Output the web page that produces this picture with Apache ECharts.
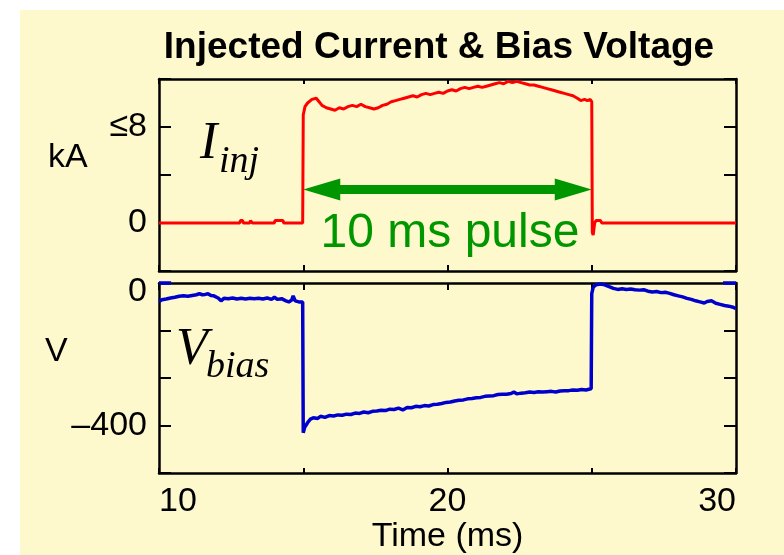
<!DOCTYPE html>
<html>
<head>
<meta charset="utf-8">
<script src="https://cdn.jsdelivr.net/npm/echarts@6/dist/echarts.min.js"></script>
<style>
  html, body { margin: 0; padding: 0; background: #ffffff; }
  #chart { width: 784px; height: 555px; }
</style>
</head>
<body>
<div id="chart"></div>
<script>
// Injected current (kA) sampled over the shot, time in ms
const currentTime = [
  10.0, 12.80, 12.82, 12.90, 12.92, 13.15, 13.17, 13.22, 13.24, 14.00, 14.02, 14.30, 14.32, 14.98,
  15.00, 15.06, 15.15, 15.30, 15.45, 15.55, 15.65, 15.80, 15.95, 16.10, 16.25, 16.40, 16.55, 16.70,
  16.85, 17.00, 17.15, 17.30, 17.45, 17.60, 17.75, 17.90, 18.05, 18.20, 18.35, 18.50, 18.65, 18.80,
  18.95, 19.10, 19.25, 19.40, 19.55, 19.70, 19.85, 20.00, 20.15, 20.30, 20.45, 20.60, 20.75, 20.90,
  21.05, 21.20, 21.35, 21.50, 21.65, 21.80, 21.95, 22.10, 22.25, 22.40, 22.55, 22.70, 22.85, 23.00,
  23.15, 23.30, 23.45, 23.60, 23.75, 23.90, 24.05, 24.20, 24.35, 24.50, 24.62, 24.75, 24.85, 24.95,
  25.00, 25.02, 25.05, 25.10, 25.15, 25.30, 25.35, 29.40, 29.42, 29.47, 30.0
];
const currentKA = [
  0, 0, 0.2, 0.2, 0, 0, 0.2, 0.2, 0, 0, 0.2, 0.2, 0, 0,
  9.0, 9.7, 10.0, 10.3, 10.4, 10.1, 9.8, 9.6, 9.5, 9.4, 9.6, 9.5, 9.7, 9.8,
  9.7, 9.9, 9.7, 9.6, 9.5, 9.6, 9.8, 9.9, 10.1, 10.2, 10.3, 10.4, 10.5, 10.6,
  10.5, 10.7, 10.8, 10.7, 10.8, 10.9, 10.8, 11.0, 11.1, 11.0, 11.2, 11.3, 11.2, 11.3,
  11.4, 11.3, 11.4, 11.5, 11.6, 11.7, 11.6, 11.8, 11.7, 11.8, 11.7, 11.6, 11.5, 11.5,
  11.4, 11.3, 11.2, 11.1, 11.0, 10.9, 10.8, 10.7, 10.6, 10.4, 10.2, 10.3, 10.2, 10.3,
  10.1, -0.8, -1.0, 0.0, 0.2, 0.2, 0, 0, 0.15, 0, 0
];

// Bias voltage (V) over the same window
const biasTime = [
  10.0, 10.1, 10.25, 10.4, 10.55, 10.7, 10.85, 11.0, 11.15, 11.3, 11.4, 11.5, 11.6, 11.7, 11.8, 11.9,
  12.05, 12.15, 12.25, 12.4, 12.55, 12.7, 12.85, 13.0, 13.15, 13.3, 13.45, 13.6, 13.75, 13.9, 14.0,
  14.1, 14.25, 14.4, 14.5, 14.6, 14.65, 14.72, 14.85, 14.98,
  15.0, 15.05, 15.15, 15.25, 15.35, 15.5, 15.6, 15.75, 15.9, 16.05, 16.2, 16.35, 16.5, 16.65, 16.8,
  16.95, 17.1, 17.25, 17.4, 17.55, 17.7, 17.85, 18.0, 18.15, 18.3, 18.45, 18.6, 18.75, 18.9, 19.05,
  19.2, 19.35, 19.5, 19.65, 19.8, 19.95, 20.1, 20.25, 20.4, 20.55, 20.7, 20.85, 21.0, 21.15, 21.3,
  21.45, 21.6, 21.75, 21.9, 22.05, 22.2, 22.3, 22.4, 22.55, 22.7, 22.85, 23.0, 23.15, 23.3, 23.45,
  23.6, 23.75, 23.9, 24.05, 24.2, 24.35, 24.5, 24.65, 24.8, 24.9, 24.98,
  25.0, 25.05, 25.15, 25.3, 25.45, 25.6, 25.75, 25.9, 26.05, 26.2, 26.35, 26.5, 26.65, 26.8, 26.95,
  27.1, 27.25, 27.4, 27.55, 27.7, 27.85, 28.0, 28.15, 28.3, 28.45, 28.6, 28.75, 28.9, 29.0, 29.15,
  29.3, 29.45, 29.6, 29.75, 29.9, 30.0
];
const biasVolts = [
  -52, -47, -45, -42, -40, -37, -36, -37, -35, -33, -30, -33, -32, -30, -35, -36,
  -42, -50, -43, -44, -42, -45, -43, -45, -43, -44, -43, -45, -42, -46, -40,
  -46, -44, -50, -53, -48, -36, -50, -53, -53,
  -420, -405, -392, -382, -378, -380, -374, -377, -372, -373, -370, -371, -368, -369, -365,
  -366, -362, -364, -360, -359, -357, -358, -354, -355, -351, -356, -349, -350, -346, -347,
  -344, -345, -341, -340, -338, -335, -334, -331, -329, -328, -325, -324, -322, -321, -318,
  -317, -316, -313, -312, -312, -310, -306, -311, -309, -308, -306, -307, -305, -306, -305,
  -304, -306, -303, -302, -302, -300, -301, -299, -300, -298, -297,
  -30, -12, -5, -3, -5, -10, -15, -18, -16, -18, -17, -19, -20, -19, -23,
  -25, -24, -27, -26, -29, -33, -36, -39, -43, -46, -50, -53, -56, -52, -50,
  -57, -60, -63, -65, -68, -72
];

// Short reference stubs drawn at 0 V at both ends of the window
const biasRefTime = [10.0, 10.42, null, 29.55, 30.0];
const biasRefVolts = [0, 0, null, 0, 0];

// Pulse annotation: start, end (ms) and the current level it is drawn at (kA)
const pulseStart = 15;
const pulseEnd = 25;
const pulseArrowLevel = 2.8;

// Axis ranges and labelled ticks
const timeRange = [10, 30];
const timeTickStep = 5;
const timeLabels = [10, 20, 30];
const currentRange = [-4, 12];
const currentTickStep = 4;
const currentLabels = { 0: '0', 8: '≤8' };
const biasTickStep = 400 / 3;
const biasRange = [-4 * biasTickStep, 0];
const biasLabels = [[0, '0'], [-400, '–400']];

const zip = (xs, ys) => xs.map((x, i) => (x === null ? null : [x, ys[i]]));

const BG = '#fef8cd';
const INK = '#000000';
const SANS = '"Liberation Sans", Arial, Helvetica, sans-serif';
const SERIF = '"Liberation Serif", "Times New Roman", serif';
const GREEN = '#009600';
const LABEL_SIZE = 34;

const frameLine = { show: true, onZero: false, lineStyle: { color: INK, width: 2.5 } };

function xAxisFor(gridIndex, position, tickLen, showLabels) {
  return {
    type: 'value', gridIndex, position,
    min: timeRange[0], max: timeRange[1], interval: timeTickStep,
    axisLine: frameLine,
    axisTick: { show: true, inside: true, length: tickLen, lineStyle: { color: INK, width: 2 } },
    splitLine: { show: false },
    axisLabel: showLabels ? {
      show: true, color: INK, fontFamily: SANS, fontSize: LABEL_SIZE, margin: 12,
      alignMinLabel: 'left', alignMaxLabel: 'right',
      formatter: v => (timeLabels.some(t => Math.abs(t - v) < 1e-6) ? String(Math.round(v)) : '')
    } : { show: false },
    name: showLabels ? 'Time (ms)' : '',
    nameLocation: 'middle', nameGap: 38,
    nameTextStyle: { color: INK, fontFamily: SANS, fontSize: LABEL_SIZE }
  };
}

function yAxisFor(gridIndex, position, range, step, formatter) {
  return {
    type: 'value', gridIndex, position,
    min: range[0], max: range[1], interval: step,
    axisLine: frameLine,
    axisTick: { show: true, inside: true, length: 12, lineStyle: { color: INK, width: 2 } },
    splitLine: { show: false },
    axisLabel: formatter ? {
      show: true, color: INK, fontFamily: SANS, fontSize: LABEL_SIZE, margin: 12,
      formatter,
      rich: { top: { fontFamily: SANS, fontSize: LABEL_SIZE, color: INK, padding: [18, 0, 0, 0] } }
    } : { show: false }
  };
}

const chart = echarts.init(document.getElementById('chart'), null, { renderer: 'canvas' });

chart.setOption({
  animation: false,
  backgroundColor: '#ffffff',
  grid: [
    { left: 159, top: 79, width: 577, height: 192, containLabel: false },
    { left: 159, top: 283, width: 577, height: 195, containLabel: false }
  ],
  xAxis: [
    xAxisFor(0, 'bottom', 6, false),
    xAxisFor(0, 'top', 5, false),
    xAxisFor(1, 'bottom', 5, true),
    xAxisFor(1, 'top', 7, false)
  ],
  yAxis: [
    yAxisFor(0, 'left', currentRange, currentTickStep, v => {
      const key = Object.keys(currentLabels).find(k => Math.abs(Number(k) - v) < 1e-6);
      return key !== undefined ? currentLabels[key] : '';
    }),
    yAxisFor(0, 'right', currentRange, currentTickStep, null),
    yAxisFor(1, 'left', biasRange, biasTickStep, v => {
      const hit = biasLabels.find(([val]) => Math.abs(val - v) < 1e-3);
      if (!hit) return '';
      return hit[0] === 0 ? '{top|' + hit[1] + '}' : hit[1];
    }),
    yAxisFor(1, 'right', biasRange, biasTickStep, null)
  ],
  graphic: [
    { type: 'rect', z: -10, silent: true, shape: { x: 20, y: 10, width: 764, height: 545 }, style: { fill: BG } },
    { type: 'text', z: 10, style: { x: 439, y: 48, text: 'Injected Current & Bias Voltage', fill: INK,
        font: 'bold 37px ' + SANS, align: 'center', verticalAlign: 'middle' } },
    { type: 'text', z: 10, style: { x: 48, y: 158, text: 'kA', fill: INK,
        font: LABEL_SIZE + 'px ' + SANS, align: 'left', verticalAlign: 'middle' } },
    { type: 'text', z: 10, style: { x: 45, y: 352, text: 'V', fill: INK,
        font: LABEL_SIZE + 'px ' + SANS, align: 'left', verticalAlign: 'middle' } },
    { type: 'text', z: 10, style: { x: 200, y: 144, text: 'I', fill: INK,
        font: 'italic 52px ' + SERIF, align: 'left', verticalAlign: 'middle' } },
    { type: 'text', z: 10, style: { x: 219, y: 162, text: 'inj', fill: INK,
        font: 'italic 38px ' + SERIF, align: 'left', verticalAlign: 'middle' } },
    { type: 'text', z: 10, style: { x: 176, y: 350, text: 'V', fill: INK,
        font: 'italic 52px ' + SERIF, align: 'left', verticalAlign: 'middle' } },
    { type: 'text', z: 10, style: { x: 206, y: 367, text: 'bias', fill: INK,
        font: 'italic 38px ' + SERIF, align: 'left', verticalAlign: 'middle' } },
    { type: 'text', z: 10, style: { x: 450, y: 234, text: '10 ms pulse', fill: GREEN,
        font: '48px ' + SANS, align: 'center', verticalAlign: 'middle' } }
  ],
  series: [
    {
      name: 'Injected current', type: 'line', xAxisIndex: 0, yAxisIndex: 0,
      data: zip(currentTime, currentKA), showSymbol: false, clip: true,
      lineStyle: { color: '#ff0000', width: 3 }, z: 3
    },
    {
      name: 'Pulse length', type: 'custom', xAxisIndex: 0, yAxisIndex: 0,
      encode: { x: [0, 1], y: 2 },
      data: [[pulseStart, pulseEnd, pulseArrowLevel]],
      renderItem: (params, api) => {
        const a = api.coord([api.value(0), api.value(2)]);
        const b = api.coord([api.value(1), api.value(2)]);
        const head = 37, half = 11, shaft = 4.5, y = a[1];
        return {
          type: 'polygon',
          shape: { points: [
            [a[0], y], [a[0] + head, y - half], [a[0] + head, y - shaft],
            [b[0] - head, y - shaft], [b[0] - head, y - half], [b[0], y],
            [b[0] - head, y + half], [b[0] - head, y + shaft],
            [a[0] + head, y + shaft], [a[0] + head, y + half]
          ] },
          style: { fill: GREEN }
        };
      },
      z: 4
    },
    {
      name: 'Bias voltage', type: 'line', xAxisIndex: 2, yAxisIndex: 2,
      data: zip(biasTime, biasVolts), showSymbol: false, clip: true,
      lineStyle: { color: '#0000cc', width: 3.5 }, z: 3
    },
    {
      name: 'Bias reference', type: 'line', xAxisIndex: 2, yAxisIndex: 2,
      data: zip(biasRefTime, biasRefVolts), showSymbol: false, clip: false, connectNulls: false,
      lineStyle: { color: '#0000cc', width: 3.5 }, z: 3
    }
  ]
});
</script>
</body>
</html>
